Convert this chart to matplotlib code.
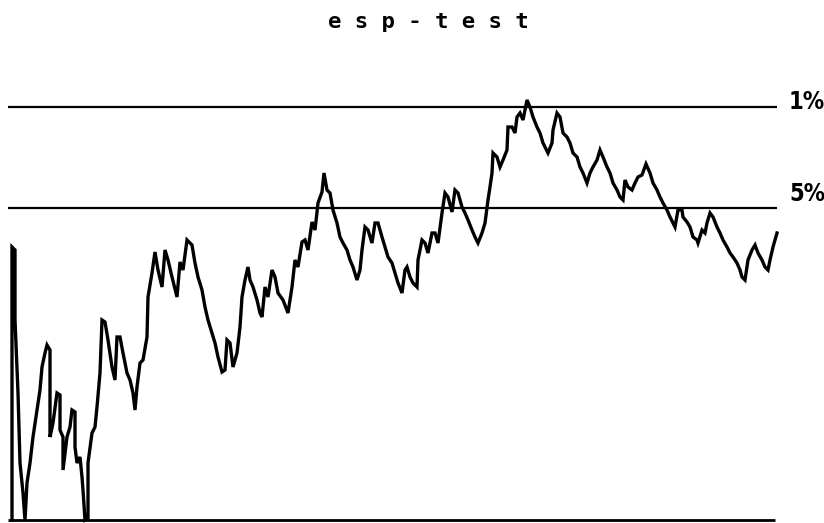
import matplotlib
matplotlib.use("Agg")
import matplotlib.pyplot as plt

# trace of the running score (x position, height above baseline)
xs = [12, 12, 15, 15, 18, 20, 23, 25, 27, 30, 33, 37, 40, 42, 45, 47, 50, 50, 53, 57,
      60, 60, 63, 63, 67, 70, 72, 75, 75, 77, 80, 82, 83, 85, 88, 88, 92, 95, 97, 100,
      102, 105, 108, 112, 115, 117, 120, 123, 127, 130, 133, 135, 137, 140, 143, 147, 148, 152, 155, 158,
      162, 165, 168, 172, 177, 180, 183, 187, 192, 195, 198, 202, 205, 208, 212, 215, 218, 222, 225, 227,
      230, 233, 237, 240, 242, 245, 248, 250, 253, 257, 260, 262, 265, 268, 272, 275, 278, 283, 288, 292,
      295, 298, 302, 305, 308, 312, 315, 318, 322, 324, 327, 330, 333, 337, 340, 343, 347, 350, 353, 357,
      360, 362, 365, 368, 372, 375, 378, 382, 385, 388, 392, 395, 398, 402, 405, 407, 410, 413, 417, 418,
      422, 425, 428, 432, 435, 438, 442, 445, 448, 452, 455, 458, 462, 465, 468, 472, 475, 478, 482, 485,
      488, 490, 492, 493, 497, 500, 503, 507, 508, 512, 515, 517, 520, 523, 527, 530, 533, 537, 540, 543,
      548, 552, 553, 557, 560, 563, 567, 570, 573, 577, 580, 583, 587, 590, 593, 597, 600, 603, 607, 610,
      613, 617, 620, 623, 625, 628, 632, 635, 638, 642, 646, 650, 653, 657, 660, 663, 667, 670, 673, 675,
      678, 682, 683, 687, 690, 693, 697, 698, 702, 705, 707, 710, 713, 717, 720, 723, 727, 730, 733, 737,
      740, 742, 745, 748, 752, 755, 758, 762, 765, 768, 770, 773, 777]
ys_px = [520, 247, 250, 320, 393, 463, 493, 520, 483, 463, 437, 410, 390, 367, 353, 345, 350, 437, 423, 393,
         395, 430, 437, 470, 437, 427, 410, 412, 447, 463, 457, 477, 490, 520, 518, 463, 433, 427, 407, 373,
         320, 322, 340, 367, 380, 337, 337, 353, 373, 380, 393, 410, 387, 363, 360, 337, 297, 273, 252, 270,
         287, 250, 260, 277, 297, 262, 270, 240, 245, 263, 277, 290, 307, 320, 333, 343, 357, 372, 370, 340,
         343, 367, 353, 327, 297, 280, 267, 280, 287, 300, 313, 317, 287, 297, 270, 277, 293, 300, 313, 287,
         260, 267, 242, 240, 250, 222, 230, 203, 192, 173, 190, 193, 210, 223, 237, 243, 250, 260, 267, 280,
         270, 250, 227, 230, 243, 223, 223, 237, 247, 257, 263, 273, 283, 293, 270, 267, 277, 283, 287, 260,
         240, 243, 253, 233, 233, 243, 213, 193, 197, 212, 190, 193, 207, 213, 220, 230, 237, 243, 233, 223,
         200, 187, 173, 153, 157, 167, 160, 150, 127, 127, 133, 117, 113, 120, 100, 107, 117, 127, 133, 143,
         153, 143, 130, 113, 117, 133, 137, 143, 153, 157, 167, 173, 183, 173, 167, 160, 150, 157, 167, 173,
         183, 190, 197, 200, 180, 187, 190, 183, 177, 175, 164, 173, 183, 190, 197, 203, 210, 217, 223, 227,
         210, 210, 217, 222, 227, 237, 240, 243, 230, 233, 223, 213, 217, 227, 233, 240, 247, 253, 257, 263,
         270, 277, 280, 260, 250, 245, 253, 260, 267, 270, 260, 247, 233]
base_px = 520
scores = [base_px - v for v in ys_px]

# significance levels
level_names = ["1%", "5%"]
level_values = [413, 312]

fig = plt.figure(figsize=(8.24, 5.23), dpi=100)
ax = fig.add_axes([0, 0, 1, 1])
ax.set_xlim(0, 824)
ax.set_ylim(-3, 520)
ax.axis("off")

ax.plot(xs, scores, color="black", lw=2.4, solid_joinstyle="miter")
ax.hlines(0, 8, 775, color="black", lw=2)
ax.hlines(level_values, 8, 777, color="black", lw=1.6)

for name, val, dy in zip(level_names, level_values, [5, 14]):
    ax.text(789, val + dy, name, ha="left", va="center", fontsize=17, fontweight="heavy",
            fontstretch="condensed", family="DejaVu Sans")

fig.text(428 / 824, 1 - 22 / 523, "e s p - t e s t", ha="center", va="center",
         fontsize=16, fontweight="bold", family="DejaVu Sans Mono")

fig.savefig("out.png", dpi=100, facecolor="white")
